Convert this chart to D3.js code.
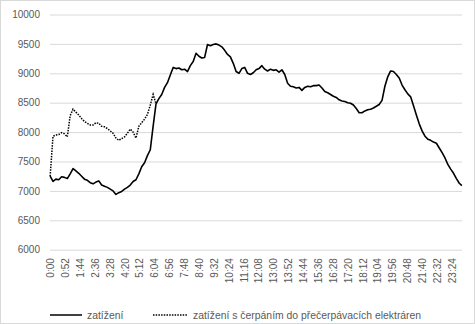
<!DOCTYPE html>
<html>
<head>
<meta charset="utf-8">
<script src="https://cdn.jsdelivr.net/npm/d3@7"></script>
<style>
  html, body { margin: 0; padding: 0; background: #fff; }
  svg { display: block; }
  text { font-family: "Liberation Sans", Arial, sans-serif; fill: #595959; }
</style>
</head>
<body>
<svg id="chart" width="475" height="324"></svg>
<script>
// Sampling interval of both series, in minutes from midnight
const stepMinutes = 10;

// "zatížení" – load over the day, one value every 10 minutes (MW)
const loadValues = [
  7250, 7160, 7200, 7190, 7240, 7230, 7210, 7290, 7380, 7340,
  7300, 7250, 7200, 7180, 7140, 7120, 7150, 7170, 7100, 7080,
  7060, 7030, 7000, 6940, 6970, 6990, 7030, 7060, 7100, 7160,
  7190, 7290, 7410, 7480, 7600, 7700, 8100, 8480, 8570, 8640,
  8760, 8840, 8970, 9100, 9080, 9090, 9060, 9070, 9030, 9130,
  9200, 9340, 9290, 9260, 9270, 9490, 9470, 9490, 9500, 9480,
  9450, 9390, 9320, 9280, 9170, 9030, 9000, 9080, 9100, 9000,
  8980, 9010, 9060, 9080, 9130, 9070, 9040, 9070, 9050, 9060,
  9020, 9060, 8980, 8830, 8780, 8770, 8750, 8760, 8710, 8760,
  8780, 8770, 8790, 8790, 8800, 8750, 8690, 8670, 8640, 8610,
  8590, 8550, 8530, 8520, 8500, 8490, 8460, 8400, 8330, 8330,
  8360, 8380, 8390, 8410, 8440, 8470, 8540, 8780, 8940, 9040,
  9030, 8980, 8920, 8800, 8720, 8650, 8600, 8450, 8290, 8140,
  8020, 7930, 7880, 7860, 7830, 7810, 7730, 7650, 7560, 7450,
  7370, 7300, 7210, 7130, 7090
];

// "zatížení s čerpáním do přečerpávacích elektráren" – load incl. pumped storage,
// differs from the plain load only during the night (same 10-minute sampling)
const pumpingValues = [
  7250, 7930, 7950, 7960, 7990, 7970, 7920, 8280, 8390, 8340,
  8290, 8230, 8180, 8150, 8120, 8120, 8160, 8150, 8100, 8090,
  8060, 8020, 7980, 7900, 7860, 7890, 7920, 7980, 8050, 8000,
  7900, 8100, 8160, 8220, 8300, 8460, 8640, 8480
];

const yTicks = [6000, 6500, 7000, 7500, 8000, 8500, 9000, 9500, 10000];
const labelEveryMinutes = 52;
const minutesInDay = 1440;
const seriesNames = ["zatížení", "zatížení s čerpáním do přečerpávacích elektráren"];

const toPoints = vals => vals.map((v, i) => ({ m: Math.min(i * stepMinutes, minutesInDay - 1), v }));
const loadPoints = toPoints(loadValues);
const pumpingPoints = toPoints(pumpingValues);

const svg = d3.select("#chart");
const W = 475, H = 324;
const plot = { left: 50, right: 462, top: 14.5, bottom: 249.7 };
const fontFamily = "'Liberation Sans', Arial, sans-serif";

// chart area border
svg.append("rect")
  .attr("x", 0.5).attr("y", 0.5)
  .attr("width", W - 1).attr("height", H - 1)
  .attr("fill", "#fff").attr("stroke", "#d9d9d9");

const x = d3.scaleLinear().domain([-0.5, minutesInDay - 0.5]).range([plot.left, plot.right]);
const y = d3.scaleLinear().domain([6000, 10000]).range([plot.bottom, plot.top]);

// horizontal gridlines and value labels
const yAxis = d3.axisLeft(y).tickValues(yTicks).tickFormat(d3.format("d")).tickSize(0).tickPadding(10);
const gy = svg.append("g").attr("transform", `translate(${plot.left},0)`).call(yAxis);
gy.select(".domain").remove();
gy.selectAll("text").attr("font-size", 10).attr("fill", "#595959").style("font-family", fontFamily);
gy.selectAll(".tick").append("line")
  .attr("x1", 0).attr("x2", plot.right - plot.left)
  .attr("stroke", "#d9d9d9").attr("stroke-width", 1);

// time-of-day labels along the bottom, rotated
const labelMinutes = d3.range(0, minutesInDay, labelEveryMinutes);
const fmt = m => `${Math.floor(m / 60)}:${String(m % 60).padStart(2, "0")}`;
const xAxis = d3.axisBottom(x).tickValues(labelMinutes).tickFormat(fmt).tickSize(0).tickPadding(0);
const gx = svg.append("g").attr("transform", `translate(0,${plot.bottom})`).call(xAxis);
gx.select(".domain").remove();
gx.selectAll("text")
  .attr("font-size", 10).attr("fill", "#595959").style("font-family", fontFamily)
  .attr("text-anchor", "end")
  .attr("transform", "translate(0,8.5) rotate(-90)")
  .attr("x", 0).attr("y", 0).attr("dy", "0.35em");

const line = d3.line().x(d => x(d.m)).y(d => y(d.v));

svg.append("path").datum(pumpingPoints)
  .attr("d", line).attr("fill", "none")
  .attr("stroke", "#000").attr("stroke-width", 1.5)
  .attr("stroke-dasharray", "1.5,1.2");

svg.append("path").datum(loadPoints)
  .attr("d", line).attr("fill", "none")
  .attr("stroke", "#000").attr("stroke-width", 1.6)
  .attr("stroke-linejoin", "round");

// legend
const legendY = 315;
const legend = [
  { name: seriesNames[0], x0: 50, x1: 82, dash: null },
  { name: seriesNames[1], x0: 153, x1: 188, dash: "1.5,1.2" }
];
legend.forEach(l => {
  svg.append("line")
    .attr("x1", l.x0).attr("x2", l.x1).attr("y1", legendY).attr("y2", legendY)
    .attr("stroke", "#000").attr("stroke-width", 1.5)
    .attr("stroke-dasharray", l.dash);
  svg.append("text")
    .attr("x", l.x1 + 5).attr("y", legendY).attr("dy", "0.35em")
    .attr("font-size", 10.4).text(l.name);
});
</script>
</body>
</html>
